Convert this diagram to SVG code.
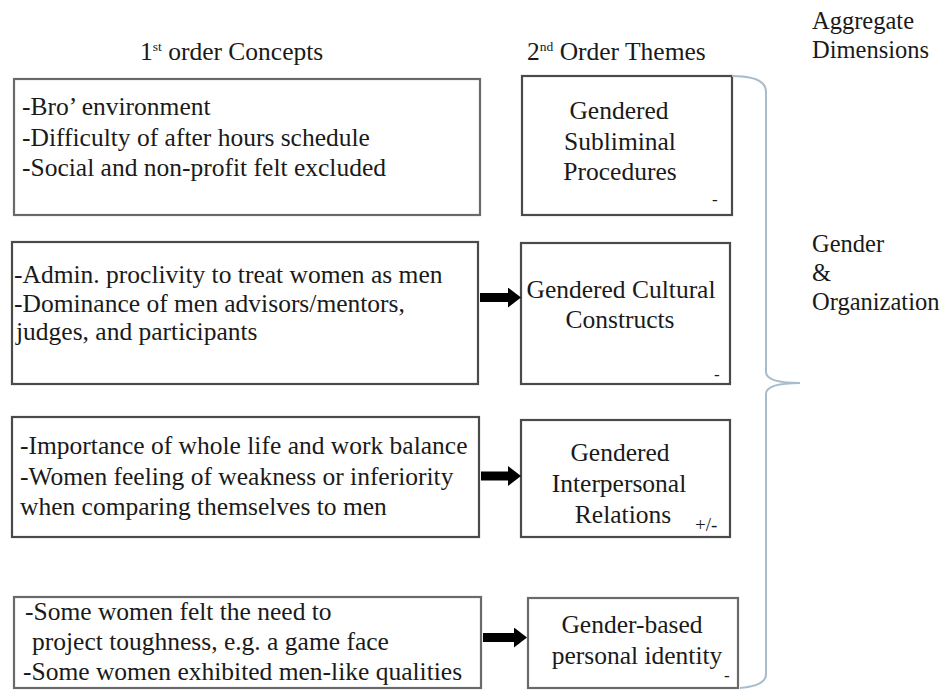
<svg xmlns="http://www.w3.org/2000/svg" width="945" height="690" viewBox="0 0 945 690" font-family="Liberation Serif">
<style>
  text { fill: #1a1a1a; }
  .t { font-size: 25.5px; }
  .r { font-size: 24.5px; }
  .c { text-anchor: middle; }
  .box { fill: #ffffff; stroke: #4a4a4a; stroke-width: 2.2; }
  .box.g { stroke: #6a6a6a; }
  .sign { font-size: 17px; }
  .sup { font-size: 13.5px; }
  .arrow { stroke: #000; stroke-width: 9; fill: none; marker-end: url(#head); }
  .brace { fill: none; stroke: #a9bccb; stroke-width: 2; }
</style>
<defs>
  <marker id="head" markerUnits="userSpaceOnUse" markerWidth="13" markerHeight="20" refX="0" refY="10" orient="auto" viewBox="0 0 13 20">
    <path d="M0,0 L13,10 L0,20 Z" fill="#000"/>
  </marker>
</defs>
<rect width="945" height="690" fill="#ffffff"/>

<g id="headers">
  <text class="t" x="140" y="60">1<tspan class="sup" dy="-9">st</tspan><tspan dy="9"> order Concepts</tspan></text>
  <text class="t" x="527" y="60">2<tspan class="sup" dy="-9">nd</tspan><tspan dy="9"> Order Themes</tspan></text>
  <text class="r" x="812" y="29">Aggregate</text>
  <text class="r" x="812" y="58">Dimensions</text>
</g>

<g id="concept1">
  <rect class="box g" x="14" y="79" width="466" height="136"/>
  <text class="t" x="22" y="115">-Bro’ environment</text>
  <text class="t" x="22" y="146">-Difficulty of after hours schedule</text>
  <text class="t" x="22" y="176">-Social and non-profit felt excluded</text>
</g>
<g id="concept2">
  <rect class="box" x="12" y="242" width="466" height="142"/>
  <text class="t" x="14" y="283">-Admin. proclivity to treat women as men</text>
  <text class="t" x="14" y="312">-Dominance of men advisors/mentors,</text>
  <text class="t" x="16" y="340">judges, and participants</text>
</g>
<g id="concept3">
  <rect class="box" x="12" y="417" width="467" height="120"/>
  <text class="t" x="20" y="454">-Importance of whole life and work balance</text>
  <text class="t" x="20" y="485">-Women feeling of weakness or inferiority</text>
  <text class="t" x="20" y="515">when comparing themselves to men</text>
</g>
<g id="concept4">
  <rect class="box g" x="14" y="597" width="467" height="91"/>
  <text class="t" x="25" y="620">-Some women felt the need to</text>
  <text class="t" x="32" y="650">project toughness, e.g. a game face</text>
  <text class="t" x="23" y="680">-Some women exhibited men-like qualities</text>
</g>

<g id="theme1">
  <rect class="box" x="522" y="76" width="210" height="139"/>
  <text class="t c" x="619" y="119">Gendered</text>
  <text class="t c" x="620" y="150">Subliminal</text>
  <text class="t c" x="620" y="180">Procedures</text>
  <text class="sign" x="712" y="205">-</text>
</g>
<g id="theme2">
  <rect class="box" x="521" y="243" width="209" height="141"/>
  <text class="t c" x="621" y="298">Gendered Cultural</text>
  <text class="t c" x="620" y="328">Constructs</text>
  <text class="sign" x="714" y="380">-</text>
</g>
<g id="theme3">
  <rect class="box" x="521" y="420" width="209" height="117"/>
  <text class="t c" x="620" y="461">Gendered</text>
  <text class="t c" x="619" y="492">Interpersonal</text>
  <text class="t c" x="623" y="523">Relations</text>
  <text class="sign" x="695" y="531" style="font-size:19px">+/-</text>
</g>
<g id="theme4">
  <rect class="box g" x="528" y="598" width="210" height="90"/>
  <text class="t c" x="632" y="633">Gender-based</text>
  <text class="t c" x="637" y="664">personal identity</text>
  <text class="sign" x="724" y="681">-</text>
</g>

<g id="dimension">
  <text class="r" x="812" y="252">Gender</text>
  <text class="r" x="812" y="281">&amp;</text>
  <text class="r" x="812" y="310">Organization</text>
</g>

<g id="connectors">
  <line class="arrow" x1="480" y1="297.5" x2="508" y2="297.5"/>
  <line class="arrow" x1="481" y1="476" x2="508" y2="476"/>
  <line class="arrow" x1="483" y1="637.5" x2="514" y2="637.5"/>
  <path class="brace" d="M 732 76 Q 766 76 766 92 L 766 372 Q 766 383 800 383 Q 766 383 766 394 L 766 674 Q 766 686 740 688"/>
</g>
</svg>
